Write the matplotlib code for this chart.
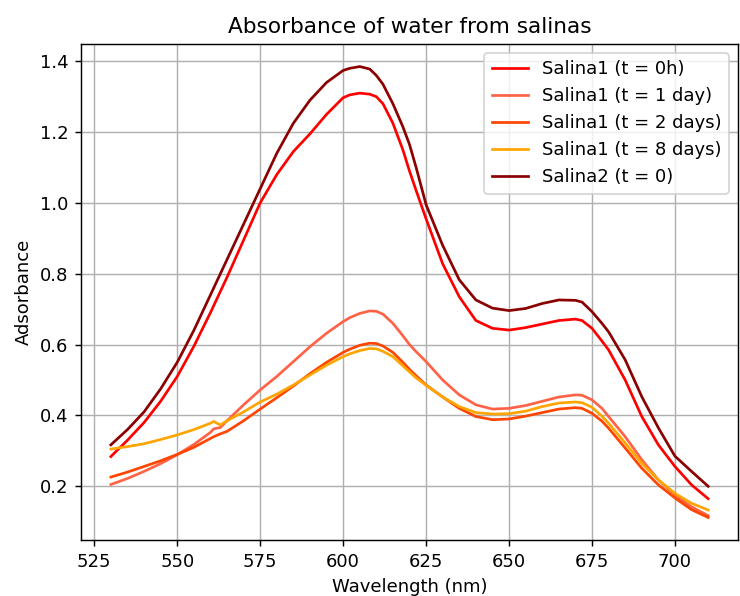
import matplotlib
matplotlib.use("Agg")
import matplotlib.pyplot as plt

wavelength = [530, 535, 540, 545, 550, 555, 560, 561, 563, 565, 570, 575, 580, 585, 590,
              595, 600, 602, 605, 608, 610, 612, 615, 618, 620, 622, 625, 630, 635, 640,
              645, 650, 655, 660, 665, 670, 672, 675, 678, 680, 685, 690, 695, 700, 705, 710]

salina1_0h = [0.284, 0.33, 0.38, 0.44, 0.51, 0.595, 0.69, 0.71, 0.75, 0.79, 0.895, 1.0, 1.08,
              1.145, 1.195, 1.25, 1.297, 1.305, 1.31, 1.307, 1.30, 1.28, 1.225, 1.15, 1.09,
              1.035, 0.955, 0.828, 0.735, 0.668, 0.646, 0.641, 0.648, 0.658, 0.668, 0.672,
              0.668, 0.646, 0.61, 0.585, 0.50, 0.397, 0.317, 0.256, 0.204, 0.165]

salina1_1d = [0.205, 0.222, 0.242, 0.264, 0.289, 0.318, 0.352, 0.362, 0.366, 0.385, 0.43,
              0.472, 0.51, 0.552, 0.594, 0.632, 0.665, 0.676, 0.688, 0.695, 0.694, 0.686,
              0.66, 0.625, 0.60, 0.58, 0.552, 0.50, 0.458, 0.43, 0.418, 0.42, 0.428, 0.44,
              0.452, 0.458, 0.457, 0.444, 0.42, 0.397, 0.34, 0.275, 0.218, 0.175, 0.142, 0.117]

salina1_2d = [0.226, 0.24, 0.256, 0.272, 0.29, 0.31, 0.335, 0.34, 0.348, 0.355, 0.385, 0.418,
              0.45, 0.483, 0.518, 0.55, 0.578, 0.587, 0.598, 0.604, 0.603, 0.596, 0.578, 0.55,
              0.53, 0.512, 0.486, 0.452, 0.42, 0.397, 0.388, 0.39, 0.398, 0.408, 0.418, 0.422,
              0.42, 0.406, 0.384, 0.364, 0.308, 0.251, 0.204, 0.167, 0.134, 0.112]

salina1_8d = [0.305, 0.312, 0.32, 0.332, 0.345, 0.36, 0.378, 0.383, 0.373, 0.385, 0.41, 0.438,
              0.46, 0.486, 0.514, 0.542, 0.566, 0.574, 0.583, 0.589, 0.588, 0.581, 0.566, 0.54,
              0.523, 0.506, 0.485, 0.452, 0.425, 0.408, 0.404, 0.405, 0.412, 0.425, 0.435,
              0.438, 0.436, 0.423, 0.398, 0.378, 0.322, 0.265, 0.218, 0.18, 0.152, 0.133]

salina2_0 = [0.317, 0.36, 0.41, 0.475, 0.55, 0.64, 0.74, 0.76, 0.80, 0.84, 0.94, 1.04, 1.14,
             1.225, 1.29, 1.34, 1.374, 1.38, 1.385, 1.378, 1.36, 1.335, 1.28, 1.215, 1.165,
             1.10, 0.995, 0.88, 0.783, 0.726, 0.703, 0.696, 0.702, 0.716, 0.726, 0.725, 0.72,
             0.693, 0.66, 0.636, 0.557, 0.453, 0.365, 0.285, 0.242, 0.2]

labels = ["Salina1 (t = 0h)", "Salina1 (t = 1 day)", "Salina1 (t = 2 days)",
          "Salina1 (t = 8 days)", "Salina2 (t = 0)"]
series = [salina1_0h, salina1_1d, salina1_2d, salina1_8d, salina2_0]
colors = ["#ff0000", "#ff6347", "#ff4500", "#ffa500", "#8b0000"]

dpi = 130
fig = plt.figure(figsize=(740 / dpi, 596 / dpi), dpi=dpi)
ax = fig.add_axes([81 / 740, 1 - 540 / 596, 657 / 740, 496 / 596])

for ys, lab, c in zip(series, labels, colors):
    ax.plot(wavelength, ys, color=c, label=lab, linewidth=1.5)

ax.set_xticks([525, 550, 575, 600, 625, 650, 675, 700])
ax.set_yticks([0.2, 0.4, 0.6, 0.8, 1.0, 1.2, 1.4])
ax.grid(True)
ax.set_title("Absorbance of water from salinas")
ax.set_xlabel("Wavelength (nm)")
ax.set_ylabel("Adsorbance")
ax.legend(loc="upper right")

fig.savefig("out.png", dpi=dpi)
